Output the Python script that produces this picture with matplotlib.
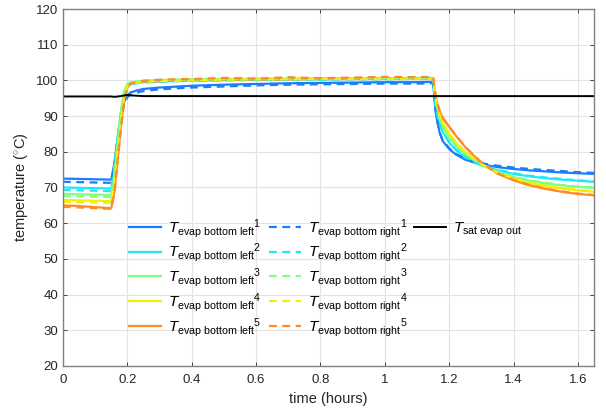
import numpy as np
import matplotlib
matplotlib.use("Agg")
import matplotlib.pyplot as plt
from matplotlib.lines import Line2D

plt.rcParams['font.family'] = ['Liberation Sans', 'DejaVu Sans']
plt.rcParams['mathtext.fontset'] = 'custom'
plt.rcParams['mathtext.rm'] = 'Liberation Sans'
plt.rcParams['mathtext.it'] = 'Liberation Sans:italic'

# time points (hours)
t = [0, 0.05, 0.10, 0.15, 0.16, 0.17, 0.18, 0.19, 0.20, 0.21, 0.23, 0.25, 0.30,
     0.40, 0.50, 0.60, 0.70, 0.80, 0.90, 1.00, 1.10, 1.15, 1.155, 1.16, 1.17,
     1.18, 1.20, 1.22, 1.25, 1.28, 1.30, 1.35, 1.40, 1.45, 1.50, 1.55, 1.60, 1.65]

left1 = [72.5, 72.4, 72.3, 72.2, 77.0, 84.0, 90.0, 94.0, 95.8, 96.6, 97.2, 97.6, 98.0,
         98.5, 98.8, 99.0, 99.2, 99.3, 99.4, 99.5, 99.5, 99.6, 94.0, 90.0, 85.5,
         83.0, 80.8, 79.3, 77.8, 76.9, 76.5, 75.7, 75.2, 74.8, 74.5, 74.2, 74.0, 73.8]
right1 = [71.6, 71.5, 71.4, 71.3, 76.5, 83.5, 89.5, 93.5, 95.3, 96.0, 96.6, 97.0, 97.5,
          98.0, 98.3, 98.6, 98.8, 98.9, 99.0, 99.1, 99.1, 99.2, 94.0, 90.0, 85.5,
          83.2, 81.0, 79.5, 78.0, 77.2, 76.8, 76.1, 75.6, 75.2, 74.9, 74.6, 74.3, 74.1]
left2 = [70.0, 69.9, 69.8, 69.7, 76.0, 84.0, 91.0, 96.5, 98.4, 99.0, 99.3, 99.5, 99.7,
         100.0, 100.1, 100.2, 100.3, 100.3, 100.4, 100.4, 100.5, 100.5, 95.5, 91.5, 88.0,
         85.5, 82.6, 80.6, 78.4, 76.9, 76.2, 74.8, 73.8, 73.1, 72.6, 72.2, 71.9, 71.6]
right2 = [69.3, 69.2, 69.1, 69.0, 75.5, 83.5, 90.5, 96.0, 98.2, 98.9, 99.2, 99.4, 99.6,
          99.9, 100.0, 100.1, 100.2, 100.2, 100.3, 100.3, 100.4, 100.4, 95.5, 91.5, 88.0,
          85.5, 82.8, 80.8, 78.6, 77.1, 76.4, 75.0, 74.0, 73.3, 72.8, 72.4, 72.0, 71.7]
left3 = [68.2, 68.1, 68.0, 67.9, 75.0, 83.5, 91.0, 97.0, 99.0, 99.5, 99.7, 99.9, 100.1,
         100.3, 100.4, 100.5, 100.5, 100.6, 100.6, 100.6, 100.7, 100.7, 96.5, 93.0, 89.5,
         87.0, 84.0, 81.8, 79.2, 77.3, 76.3, 74.3, 72.9, 71.9, 71.2, 70.6, 70.2, 69.9]
right3 = [67.6, 67.5, 67.4, 67.3, 74.5, 83.0, 90.5, 96.5, 98.8, 99.4, 99.6, 99.8, 100.0,
          100.2, 100.3, 100.4, 100.5, 100.5, 100.6, 100.6, 100.6, 100.7, 96.5, 93.0, 89.5,
          87.0, 84.1, 81.9, 79.3, 77.4, 76.4, 74.4, 73.0, 72.0, 71.3, 70.7, 70.3, 70.0]
left4 = [66.5, 66.4, 66.3, 66.2, 73.0, 82.0, 90.0, 96.0, 98.6, 99.2, 99.5, 99.7, 99.9,
         100.1, 100.2, 100.3, 100.3, 100.4, 100.4, 100.5, 100.5, 100.5, 97.0, 93.8, 90.5,
         88.0, 85.0, 82.7, 79.9, 77.8, 76.5, 74.1, 72.4, 71.2, 70.4, 69.7, 69.2, 68.8]
right4 = [66.0, 65.9, 65.8, 65.7, 72.5, 81.5, 89.5, 95.5, 98.4, 99.1, 99.4, 99.6, 99.8,
          100.0, 100.2, 100.3, 100.3, 100.4, 100.4, 100.4, 100.5, 100.5, 97.0, 93.8, 90.5,
          88.0, 85.1, 82.8, 80.0, 77.9, 76.6, 74.2, 72.5, 71.3, 70.5, 69.8, 69.3, 68.9]
left5 = [65.0, 64.8, 64.5, 64.2, 69.0, 78.0, 87.0, 94.5, 98.0, 99.0, 99.4, 99.6, 99.8,
         100.0, 100.1, 100.2, 100.3, 100.4, 100.4, 100.5, 100.6, 100.6, 97.5, 94.5, 91.5,
         89.5, 87.0, 84.6, 81.3, 78.6, 77.0, 73.9, 72.0, 70.6, 69.6, 68.8, 68.2, 67.8]
right5 = [64.6, 64.4, 64.2, 64.0, 68.5, 77.5, 86.5, 94.0, 97.9, 99.1, 99.6, 99.9, 100.2,
          100.4, 100.7, 100.5, 100.9, 100.6, 100.8, 101.0, 100.9, 101.0, 97.5, 94.5, 91.5,
          89.5, 87.1, 84.7, 81.4, 78.7, 77.1, 74.0, 72.1, 70.7, 69.7, 68.9, 68.3, 67.9]
sat_out = [95.5, 95.5, 95.5, 95.5, 95.4, 95.5, 95.6, 95.8, 95.9, 95.8, 95.7, 95.6, 95.6,
           95.6, 95.6, 95.6, 95.6, 95.6, 95.6, 95.6, 95.6, 95.6, 95.6, 95.6, 95.6,
           95.6, 95.6, 95.6, 95.6, 95.6, 95.6, 95.6, 95.6, 95.6, 95.6, 95.6, 95.6, 95.6]

colors = ['#1a7dff', '#22e6f2', '#80ff80', '#f2f000', '#ff8a26']
lefts = [left1, left2, left3, left4, left5]
rights = [right1, right2, right3, right4, right5]

fig = plt.figure(figsize=(6.06, 4.08), dpi=100)
ax = fig.add_axes([63 / 606, 42 / 408, 531 / 606, 357 / 408])

handles = []
for i in range(5):
    h, = ax.plot(t, lefts[i], color=colors[i], lw=1.6,
                 label=r'$T_{\mathrm{evap\ bottom\ left}}{}^{%d}$' % (i + 1))
    handles.append(h)
for i in range(5):
    h, = ax.plot(t, rights[i], color=colors[i], lw=1.6, ls=(0, (3.5, 2.5)),
                 label=r'$T_{\mathrm{evap\ bottom\ right}}{}^{%d}$' % (i + 1))
    handles.append(h)
hs, = ax.plot(t, sat_out, color='black', lw=1.4, label=r'$T_{\mathrm{sat\ evap\ out}}$')
handles.append(hs)
# blank entries so that the third legend column holds only the black line
for k in range(4):
    handles.append(Line2D([], [], color='none', label=' '))

ax.set_xlim(0, 1.65)
ax.set_ylim(20, 120)
ax.set_xticks([0, 0.2, 0.4, 0.6, 0.8, 1.0, 1.2, 1.4, 1.6])
ax.set_xticklabels(['0', '0.2', '0.4', '0.6', '0.8', '1', '1.2', '1.4', '1.6'])
ax.set_yticks(np.arange(20, 121, 10))
ax.grid(True, color='#e2e2e2', lw=0.8)
ax.set_axisbelow(True)
ax.tick_params(direction='in', top=True, right=True, labelsize=9.5,
               colors='#262626', length=3, width=0.6)
ax.tick_params(axis='x', pad=6)
for s in ax.spines.values():
    s.set_color('#808080')
    s.set_linewidth(1.0)
ax.set_xlabel('time (hours)', fontsize=10.5, color='#262626', labelpad=4)
ax.set_ylabel(r'temperature ($^{\circ}$C)', fontsize=10.5, color='#262626', labelpad=4)

ax.legend(handles=handles, ncol=3, loc='upper left', bbox_to_anchor=(0.125, 0.418),
          frameon=False, fontsize=11, handlelength=2.1, handletextpad=0.45,
          columnspacing=0.45, labelspacing=0.12, borderaxespad=0, borderpad=0)

fig.savefig('out.png', dpi=100)
